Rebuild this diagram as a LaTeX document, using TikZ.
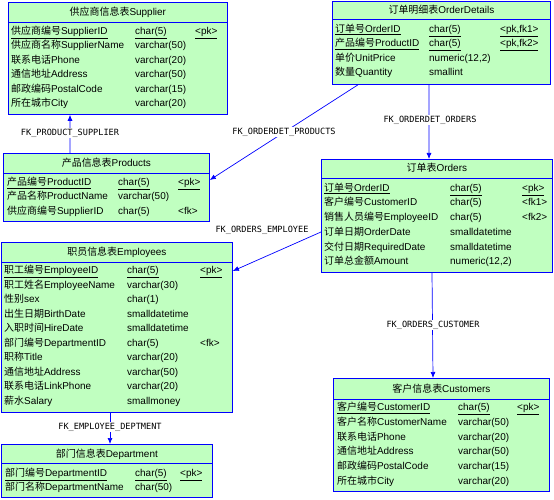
\documentclass[tikz,border=0pt]{standalone}
\usepackage{fontspec}
\setmainfont{Liberation Sans}
\newfontfamily\cjk{Noto Sans CJK SC}
\newfontfamily\lblfont{DejaVu Sans Mono}
\usetikzlibrary{arrows.meta}
\definecolor{tblfill}{RGB}{192,255,192}
\definecolor{tblblue}{RGB}{0,0,255}
\newcommand\zh[1]{{\cjk #1}}
\newcommand\uln[1]{\underline{#1}}
\newcommand\colN{0}\newcommand\colT{0}\newcommand\colK{0}
\newcommand\setcols[3]{\renewcommand\colN{#1}\renewcommand\colT{#2}\renewcommand\colK{#3}}
\newcommand\fld[6]{%
  \node[fieldtxt] (#1-#2n) at (\colN,#3) {#4};
  \node[fieldtxt] (#1-#2t) at (\colT,#3) {#5};
  \node[fieldtxt] (#1-#2k) at (\colK,#3) {#6};}
% name, x, y, w, h, title, separator offset
\newcommand\tbl[7]{%
  \node[tblbox, minimum width=#4bp, minimum height=#5bp] (#1) at (#2,#3) {};
  \draw[tblline] ([yshift=-#7bp]#1.north west) -- ([yshift=-#7bp]#1.north east);
  \node[hdrtxt] (#1-h) at ([yshift=-#7bp/2-3.5bp]#1.north) {#6};}
\begin{document}
\begin{tikzpicture}[x=1bp,y=-1bp,
  tblbox/.style={anchor=north west, draw=tblblue, fill=tblfill, inner sep=0pt, line width=0.8bp},
  tblline/.style={draw=tblblue, line width=0.8bp},
  fieldtxt/.style={anchor=base west, inner sep=0pt, font=\fontsize{10}{12}\selectfont},
  hdrtxt/.style={anchor=base, inner sep=0pt, font=\fontsize{10}{12}\selectfont},
  conn/.style={draw=tblblue, line width=0.7bp, -{Latex[length=6bp,width=5bp]}},
  fklabel/.style={font=\lblfont\fontsize{8.6}{10}\selectfont, fill=white, inner sep=0.6bp}]
\useasboundingbox (0,0) rectangle (554,500);

% Supplier
\tbl{sup}{8}{2}{219}{112}{\zh{供应商信息表}Supplier}{20}
\setcols{11}{135}{195}
\fld{sup}{1}{34.5}{\uln{\zh{供应商编号}SupplierID}}{\uln{char(5)}}{\uln{<pk>}}
\fld{sup}{2}{49}{\zh{供应商名称}SupplierName}{varchar(50)}{}
\fld{sup}{3}{63.4}{\zh{联系电话}Phone}{varchar(20)}{}
\fld{sup}{4}{77.8}{\zh{通信地址}Address}{varchar(50)}{}
\fld{sup}{5}{92.2}{\zh{邮政编码}PostalCode}{varchar(15)}{}
\fld{sup}{6}{106.6}{\zh{所在城市}City}{varchar(20)}{}

% Products
\tbl{prod}{3}{153}{206}{68}{\zh{产品信息表}Products}{20}
\setcols{7}{118}{178}
\fld{prod}{1}{185.5}{\uln{\zh{产品编号}ProductID}}{\uln{char(5)}}{\uln{<pk>}}
\fld{prod}{2}{200}{\zh{产品名称}ProductName}{varchar(50)}{}
\fld{prod}{3}{214.5}{\zh{供应商编号}SupplierID}{char(5)}{<fk>}

% OrderDetails
\tbl{od}{332}{1}{218}{83}{\zh{订单明细表}OrderDetails}{18}
\setcols{335}{429}{500}
\fld{od}{1}{32.5}{\uln{\zh{订单号}OrderID}}{\uln{char(5)}}{\uln{<pk,fk1>}}
\fld{od}{2}{47}{\uln{\zh{产品编号}ProductID}}{\uln{char(5)}}{\uln{<pk,fk2>}}
\fld{od}{3}{61.5}{\zh{单价}UnitPrice}{numeric(12,2)}{}
\fld{od}{4}{76}{\zh{数量}Quantity}{smallint}{}

% Orders
\tbl{ord}{321}{159}{231}{113}{\zh{订单表}Orders}{19}
\setcols{324}{450}{522}
\fld{ord}{1}{191.5}{\uln{\zh{订单号}OrderID}}{\uln{char(5)}}{\uln{<pk>}}
\fld{ord}{2}{206}{\zh{客户编号}CustomerID}{char(5)}{<fk1>}
\fld{ord}{3}{220.5}{\zh{销售人员编号}EmployeeID}{char(5)}{<fk2>}
\fld{ord}{4}{235}{\zh{订单日期}OrderDate}{smalldatetime}{}
\fld{ord}{5}{250}{\zh{交付日期}RequiredDate}{smalldatetime}{}
\fld{ord}{6}{264.5}{\zh{订单总金额}Amount}{numeric(12,2)}{}

% Employees
\tbl{emp}{1}{242}{231}{170}{\zh{职员信息表}Employees}{20}
\setcols{4}{127}{200}
\fld{emp}{1}{273.5}{\uln{\zh{职工编号}EmployeeID}}{\uln{char(5)}}{\uln{<pk>}}
\fld{emp}{2}{288}{\zh{职工姓名}EmployeeName}{varchar(30)}{}
\fld{emp}{3}{302.6}{\zh{性别}sex}{char(1)}{}
\fld{emp}{4}{317.2}{\zh{出生日期}BirthDate}{smalldatetime}{}
\fld{emp}{5}{331.7}{\zh{入职时间}HireDate}{smalldatetime}{}
\fld{emp}{6}{346.3}{\zh{部门编号}DepartmentID}{char(5)}{<fk>}
\fld{emp}{7}{360.8}{\zh{职称}Title}{varchar(20)}{}
\fld{emp}{8}{375.4}{\zh{通信地址}Address}{varchar(50)}{}
\fld{emp}{9}{389.9}{\zh{联系电话}LinkPhone}{varchar(20)}{}
\fld{emp}{10}{404.5}{\zh{薪水}Salary}{smallmoney}{}

% Department
\tbl{dep}{1}{444}{211}{53}{\zh{部门信息表}Department}{19}
\setcols{5}{135}{180}
\fld{dep}{1}{476.5}{\uln{\zh{部门编号}DepartmentID}}{\uln{char(5)}}{\uln{<pk>}}
\fld{dep}{2}{490.5}{\zh{部门名称}DepartmentName}{char(50)}{}

% Customers
\tbl{cus}{333}{378}{216}{113}{\zh{客户信息表}Customers}{21}
\setcols{337}{458}{517}
\fld{cus}{1}{410.5}{\uln{\zh{客户编号}CustomerID}}{\uln{char(5)}}{\uln{<pk>}}
\fld{cus}{2}{425.3}{\zh{客户名称}CustomerName}{varchar(50)}{}
\fld{cus}{3}{440}{\zh{联系电话}Phone}{varchar(20)}{}
\fld{cus}{4}{454.9}{\zh{通信地址}Address}{varchar(50)}{}
\fld{cus}{5}{469.7}{\zh{邮政编码}PostalCode}{varchar(15)}{}
\fld{cus}{6}{484.5}{\zh{所在城市}City}{varchar(20)}{}

% connectors
\draw[conn] ([xshift=67bp]prod.north west) -- ([xshift=62bp]sup.south west);
\draw[conn] ([xshift=26bp]od.south west) -- ([yshift=-27bp]prod.north east);
\draw[conn] ([xshift=97bp]od.south west) -- ([xshift=108bp]ord.north west);
\draw[conn] ([yshift=-73bp]ord.north west) -- ([yshift=-29bp]emp.north east);
\draw[conn] ([xshift=111bp]ord.south west) -- ([xshift=100bp]cus.north west);
\draw[conn] ([xshift=109bp]emp.south west) -- ([xshift=109bp]dep.north west);

% labels
\node[fklabel] (l1) at (70,133) {FK\_PRODUCT\_SUPPLIER};
\node[fklabel] (l2) at (284,132) {FK\_ORDERDET\_PRODUCTS};
\node[fklabel] (l3) at (430,120) {FK\_ORDERDET\_ORDERS};
\node[fklabel] (l4) at (262,230) {FK\_ORDERS\_EMPLOYEE};
\node[fklabel] (l5) at (433,325) {FK\_ORDERS\_CUSTOMER};
\node[fklabel] (l6) at (110,427) {FK\_EMPLOYEE\_DEPTMENT};
\end{tikzpicture}
\end{document}
